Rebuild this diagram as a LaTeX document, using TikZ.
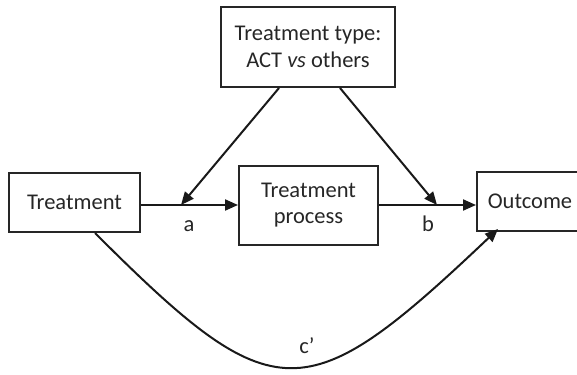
\documentclass[tikz,border=0pt]{standalone}
\usepackage{fontspec}
\setmainfont{Carlito}
\usetikzlibrary{arrows.meta,calc}
\begin{document}
\begin{tikzpicture}[x=1pt,y=-1pt,
  box/.style={draw=black!85,line width=2pt,align=center,inner sep=0pt,
    font=\fontsize{22.5}{26.5}\selectfont,text=black!85},
  conn/.style={draw=black!90,line width=2pt,-{Triangle[length=13pt,width=11pt]}},
  lbl/.style={font=\fontsize{22.5}{26.5}\selectfont,text=black!85,inner sep=0pt}]
\useasboundingbox (0,0) rectangle (577,374);
\clip (0,0) rectangle (577,374);
\node[box,minimum width=131pt,minimum height=59pt] (treat) at (74.5,202.5) {Treatment};
\node[box,minimum width=174pt,minimum height=80pt] (type) at (308,47) {Treatment type:\\ACT \textit{vs} others};
\node[box,minimum width=139pt,minimum height=79pt] (proc) at (308.5,205) {Treatment\\process};
\node[box,minimum width=106pt,minimum height=59pt] (out) at (530,201.5) {Outcome};
\coordinate (ta) at (181,205);
\coordinate (tb) at (437,205);
\draw[conn] (treat.east |- proc) -- (proc.west);
\draw[conn] (proc.east) -- (proc.east -| out.west);
\draw[conn] ([xshift=-29pt]type.south) -- (ta);
\draw[conn] ([xshift=32pt]type.south) -- (tb);
\draw[conn] ([xshift=20.5pt]treat.south) .. controls (275,413) and (305,412) .. ([xshift=-32pt,yshift=3pt]out.south);
\node[lbl] (la) at (189,226) {a};
\node[lbl] (lb) at (428,224) {b};
\node[lbl] (lc) at (307,346) {c’};
\end{tikzpicture}
\end{document}
